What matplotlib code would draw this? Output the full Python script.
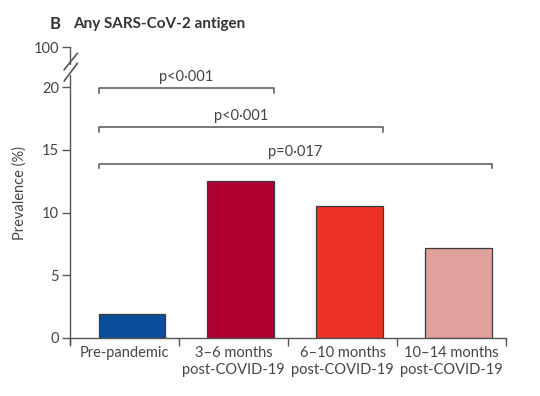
import matplotlib.pyplot as plt
from matplotlib.patches import Rectangle

plt.rcParams['font.family'] = ['Lato', 'DejaVu Sans']

categories = ['Pre-pandemic', '3–6 months\npost-COVID-19', '6–10 months\npost-COVID-19', '10–14 months\npost-COVID-19']
prevalence = [1.9, 12.5, 10.5, 7.2]
colors = ['#0A4F9C', '#B00032', '#EE3124', '#E0A19C']
# comparisons: (from bar, to bar, bracket height, label)
brackets = [(0, 1, 19.9, 'p<0·001'), (0, 2, 16.8, 'p<0·001'), (0, 3, 13.9, 'p=0·017')]
ytick_vals = [0, 5, 10, 15, 20]
top_label = '100'
top_pos = 23.2  # axis position used for the broken-axis "100" tick

grey = '#555555'
txt = '#444444'

fig = plt.figure(figsize=(5.4, 3.96), dpi=100)
ax = fig.add_axes([0.13, 0.1465, 0.807, 0.7345])

bar_off = 0.26
bar_w = 0.61
for i, (v, c) in enumerate(zip(prevalence, colors)):
    ax.bar(i + bar_off, v, width=bar_w, align='edge', color=c, edgecolor='#3a3a3a', linewidth=0.9, zorder=2)

ax.set_xlim(0, 4)
ax.set_ylim(0, top_pos)

ax.set_xticks(range(5))
ax.set_xticklabels([])
ax.set_xticks([i + 0.5 for i in range(4)], minor=True)
ax.set_xticklabels(categories, minor=True, fontsize=10.5, color=txt)
ax.tick_params(axis='x', which='minor', length=0, pad=6)
ax.tick_params(axis='x', which='major', length=6, width=1, color=grey)

ax.set_yticks(ytick_vals + [top_pos])
ax.set_yticklabels([str(v) for v in ytick_vals] + [top_label], fontsize=10.5, color=txt)
ax.tick_params(axis='y', length=6, width=1, color=grey, pad=2)

for s in ['top', 'right']:
    ax.spines[s].set_visible(False)
for s in ['left', 'bottom']:
    ax.spines[s].set_color(grey)
    ax.spines[s].set_linewidth(1)
ax.spines['left'].set_bounds(-0.5, top_pos)

ax.set_ylabel('Prevalence (%)', fontsize=10.5, color=txt)
ax.yaxis.set_label_coords(-0.10, 0.50)

# break marks on y axis
ax.add_patch(Rectangle((-0.02, 20.95), 0.04, 0.85, transform=ax.transData,
                       facecolor='white', edgecolor='none', clip_on=False, zorder=5))
for y0, y1 in [(21.4, 22.7), (20.5, 21.9)]:
    ax.plot([-0.055, 0.065], [y0, y1], color=grey, lw=1.2, clip_on=False, zorder=6)

# significance brackets
for a, b, h, lab in brackets:
    x0 = a + bar_off
    x1 = b + bar_off + bar_w
    ax.plot([x0, x0, x1, x1], [h - 0.35, h, h, h - 0.35], color=grey, lw=1.1, clip_on=False)
    ax.text((x0 + x1) / 2, h + 0.35, lab, ha='center', va='bottom', fontsize=10.5, color=txt)

fig.text(0.092, 0.94, 'B', fontsize=12, fontweight='bold', color='#333333', va='center')
fig.text(0.135, 0.94, 'Any SARS-CoV-2 antigen', fontsize=11, fontweight='bold', color='#333333', va='center')

fig.savefig('out.png', dpi=100)
